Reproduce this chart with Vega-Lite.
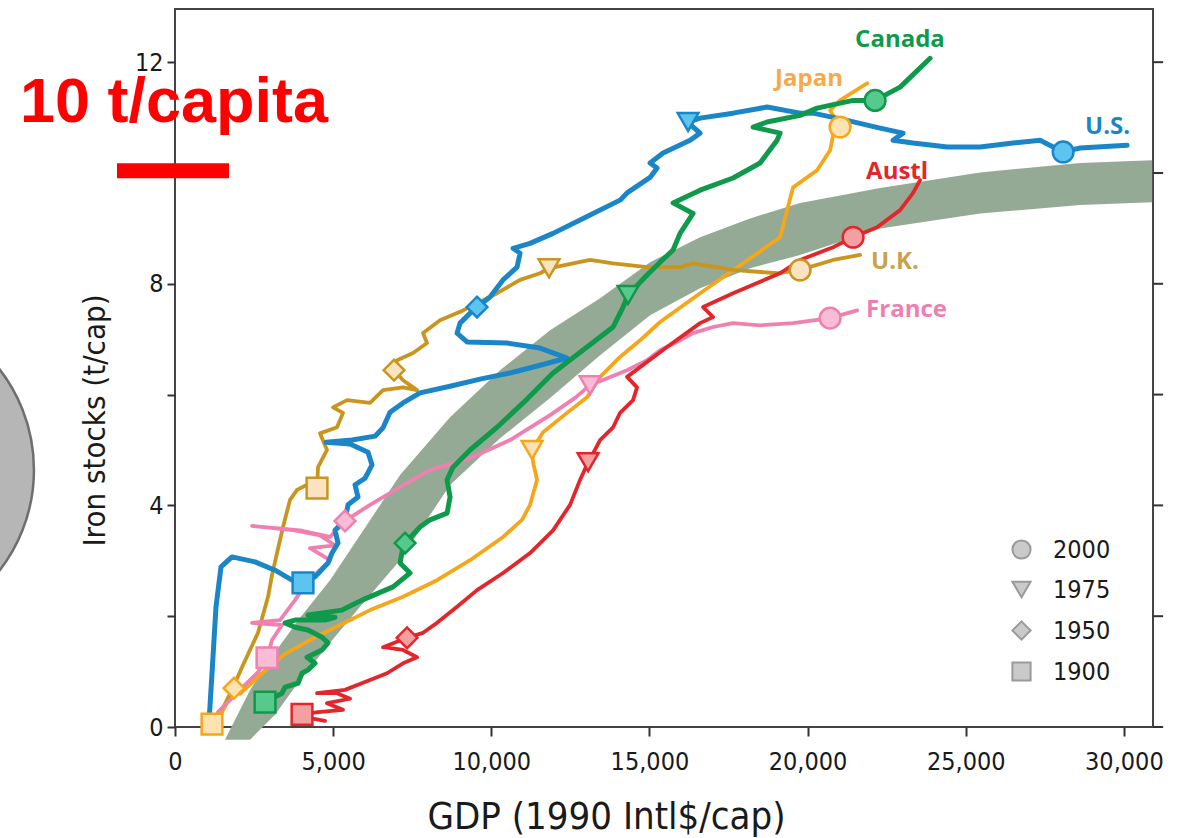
{
  "$schema": "https://vega.github.io/schema/vega-lite/v6.json",
  "autosize": {"type": "none"},
  "width": 978,
  "height": 718,
  "padding": {"left": 175, "top": 9, "right": 31, "bottom": 111},
  "background": "white",
  "config": {
    "view": {"stroke": "#444444", "strokeWidth": 2},
    "axis": {
      "labelFont": "DejaVu Sans Condensed, Liberation Sans Narrow, sans-serif",
      "labelFontSize": 25,
      "labelColor": "#1a1a1a",
      "titleFont": "DejaVu Sans Condensed, Liberation Sans Narrow, sans-serif",
      "titleColor": "#1a1a1a",
      "titleFontWeight": "normal",
      "domainColor": "#333333",
      "domainWidth": 2,
      "tickColor": "#333333",
      "tickWidth": 2,
      "grid": false
    },
    "legend": {
      "orient": "bottom-right",
      "offset": 42,
      "padding": 0,
      "labelFont": "DejaVu Sans Condensed, Liberation Sans Narrow, sans-serif",
      "labelFontSize": 25,
      "labelColor": "#1a1a1a",
      "symbolSize": 330,
      "symbolStrokeWidth": 2,
      "rowPadding": 14,
      "labelOffset": 19
    }
  },
  "datasets": {
    "band": [
      {"gdp": 1581, "lo": -0.23, "hi": -0.23},
      {"gdp": 2372, "lo": -0.23, "hi": 0.67},
      {"gdp": 3162, "lo": 0.22, "hi": 1.35},
      {"gdp": 3953, "lo": 0.85, "hi": 1.97},
      {"gdp": 4901, "lo": 1.52, "hi": 2.65},
      {"gdp": 5850, "lo": 2.17, "hi": 3.46},
      {"gdp": 7115, "lo": 3.01, "hi": 4.55},
      {"gdp": 8696, "lo": 4.37, "hi": 5.59},
      {"gdp": 10277, "lo": 5.21, "hi": 6.44},
      {"gdp": 11858, "lo": 5.94, "hi": 7.16},
      {"gdp": 13439, "lo": 6.71, "hi": 7.74},
      {"gdp": 15020, "lo": 7.43, "hi": 8.39},
      {"gdp": 16601, "lo": 7.92, "hi": 8.84},
      {"gdp": 18182, "lo": 8.28, "hi": 9.18},
      {"gdp": 19763, "lo": 8.52, "hi": 9.46},
      {"gdp": 22292, "lo": 9.0, "hi": 9.73},
      {"gdp": 25454, "lo": 9.27, "hi": 10.01},
      {"gdp": 28616, "lo": 9.42, "hi": 10.18},
      {"gdp": 30893, "lo": 9.47, "hi": 10.23}
    ],
    "lines": [
      {"country": "U.S.", "i": 1, "gdp": 1075, "stock": 0.09},
      {"country": "U.S.", "i": 2, "gdp": 1170, "stock": 0.97},
      {"country": "U.S.", "i": 3, "gdp": 1296, "stock": 2.17},
      {"country": "U.S.", "i": 4, "gdp": 1455, "stock": 2.89},
      {"country": "U.S.", "i": 5, "gdp": 1802, "stock": 3.07},
      {"country": "U.S.", "i": 6, "gdp": 2530, "stock": 2.98},
      {"country": "U.S.", "i": 7, "gdp": 3162, "stock": 2.83},
      {"country": "U.S.", "i": 8, "gdp": 3700, "stock": 2.65},
      {"country": "U.S.", "i": 9, "gdp": 4047, "stock": 2.6},
      {"country": "U.S.", "i": 10, "gdp": 4427, "stock": 2.71},
      {"country": "U.S.", "i": 11, "gdp": 4838, "stock": 2.96},
      {"country": "U.S.", "i": 12, "gdp": 4964, "stock": 3.14},
      {"country": "U.S.", "i": 13, "gdp": 5154, "stock": 3.32},
      {"country": "U.S.", "i": 14, "gdp": 5059, "stock": 3.55},
      {"country": "U.S.", "i": 15, "gdp": 5375, "stock": 3.74},
      {"country": "U.S.", "i": 16, "gdp": 5470, "stock": 4.01},
      {"country": "U.S.", "i": 17, "gdp": 5786, "stock": 4.15},
      {"country": "U.S.", "i": 18, "gdp": 5692, "stock": 4.37},
      {"country": "U.S.", "i": 19, "gdp": 6008, "stock": 4.49},
      {"country": "U.S.", "i": 20, "gdp": 6229, "stock": 4.73},
      {"country": "U.S.", "i": 21, "gdp": 6103, "stock": 4.96},
      {"country": "U.S.", "i": 22, "gdp": 5534, "stock": 5.11},
      {"country": "U.S.", "i": 23, "gdp": 4775, "stock": 5.14},
      {"country": "U.S.", "i": 24, "gdp": 5597, "stock": 5.18},
      {"country": "U.S.", "i": 25, "gdp": 6324, "stock": 5.25},
      {"country": "U.S.", "i": 26, "gdp": 6577, "stock": 5.4},
      {"country": "U.S.", "i": 27, "gdp": 6798, "stock": 5.68},
      {"country": "U.S.", "i": 28, "gdp": 7209, "stock": 5.85},
      {"country": "U.S.", "i": 29, "gdp": 7747, "stock": 6.03},
      {"country": "U.S.", "i": 30, "gdp": 8696, "stock": 6.15},
      {"country": "U.S.", "i": 31, "gdp": 9644, "stock": 6.28},
      {"country": "U.S.", "i": 32, "gdp": 10593, "stock": 6.39},
      {"country": "U.S.", "i": 33, "gdp": 11541, "stock": 6.53},
      {"country": "U.S.", "i": 34, "gdp": 12395, "stock": 6.66},
      {"country": "U.S.", "i": 35, "gdp": 11541, "stock": 6.84},
      {"country": "U.S.", "i": 36, "gdp": 10498, "stock": 6.93},
      {"country": "U.S.", "i": 37, "gdp": 9233, "stock": 6.95},
      {"country": "U.S.", "i": 38, "gdp": 8917, "stock": 7.11},
      {"country": "U.S.", "i": 39, "gdp": 9012, "stock": 7.29},
      {"country": "U.S.", "i": 40, "gdp": 9423, "stock": 7.52},
      {"country": "U.S.", "i": 41, "gdp": 9549, "stock": 7.58},
      {"country": "U.S.", "i": 42, "gdp": 9960, "stock": 7.76},
      {"country": "U.S.", "i": 43, "gdp": 10371, "stock": 8.07},
      {"country": "U.S.", "i": 44, "gdp": 10814, "stock": 8.3},
      {"country": "U.S.", "i": 45, "gdp": 10909, "stock": 8.55},
      {"country": "U.S.", "i": 46, "gdp": 10688, "stock": 8.64},
      {"country": "U.S.", "i": 47, "gdp": 11225, "stock": 8.73},
      {"country": "U.S.", "i": 48, "gdp": 11952, "stock": 8.91},
      {"country": "U.S.", "i": 49, "gdp": 12806, "stock": 9.15},
      {"country": "U.S.", "i": 50, "gdp": 14071, "stock": 9.51},
      {"country": "U.S.", "i": 51, "gdp": 14292, "stock": 9.64},
      {"country": "U.S.", "i": 52, "gdp": 15020, "stock": 9.92},
      {"country": "U.S.", "i": 53, "gdp": 15241, "stock": 10.09},
      {"country": "U.S.", "i": 54, "gdp": 15020, "stock": 10.18},
      {"country": "U.S.", "i": 55, "gdp": 15431, "stock": 10.36},
      {"country": "U.S.", "i": 56, "gdp": 16284, "stock": 10.59},
      {"country": "U.S.", "i": 57, "gdp": 16601, "stock": 10.72},
      {"country": "U.S.", "i": 58, "gdp": 16379, "stock": 10.83},
      {"country": "U.S.", "i": 59, "gdp": 16221, "stock": 10.92},
      {"country": "U.S.", "i": 60, "gdp": 16601, "stock": 10.99},
      {"country": "U.S.", "i": 61, "gdp": 17644, "stock": 11.08},
      {"country": "U.S.", "i": 62, "gdp": 18719, "stock": 11.19},
      {"country": "U.S.", "i": 63, "gdp": 19763, "stock": 11.08},
      {"country": "U.S.", "i": 64, "gdp": 20174, "stock": 11.08},
      {"country": "U.S.", "i": 65, "gdp": 21249, "stock": 10.95},
      {"country": "U.S.", "i": 66, "gdp": 22292, "stock": 10.81},
      {"country": "U.S.", "i": 67, "gdp": 23019, "stock": 10.72},
      {"country": "U.S.", "i": 68, "gdp": 22703, "stock": 10.59},
      {"country": "U.S.", "i": 69, "gdp": 23336, "stock": 10.54},
      {"country": "U.S.", "i": 70, "gdp": 24411, "stock": 10.47},
      {"country": "U.S.", "i": 71, "gdp": 25454, "stock": 10.47},
      {"country": "U.S.", "i": 72, "gdp": 26498, "stock": 10.54},
      {"country": "U.S.", "i": 73, "gdp": 27351, "stock": 10.59},
      {"country": "U.S.", "i": 74, "gdp": 27762, "stock": 10.47},
      {"country": "U.S.", "i": 75, "gdp": 28079, "stock": 10.38},
      {"country": "U.S.", "i": 76, "gdp": 28616, "stock": 10.45},
      {"country": "U.S.", "i": 77, "gdp": 30102, "stock": 10.5},

      {"country": "Canada", "i": 1, "gdp": 2846, "stock": 0.45},
      {"country": "Canada", "i": 2, "gdp": 3383, "stock": 0.61},
      {"country": "Canada", "i": 3, "gdp": 3478, "stock": 0.72},
      {"country": "Canada", "i": 4, "gdp": 3889, "stock": 0.79},
      {"country": "Canada", "i": 5, "gdp": 4016, "stock": 0.97},
      {"country": "Canada", "i": 6, "gdp": 4205, "stock": 1.03},
      {"country": "Canada", "i": 7, "gdp": 4427, "stock": 1.15},
      {"country": "Canada", "i": 8, "gdp": 4174, "stock": 1.26},
      {"country": "Canada", "i": 9, "gdp": 4648, "stock": 1.39},
      {"country": "Canada", "i": 10, "gdp": 4838, "stock": 1.52},
      {"country": "Canada", "i": 11, "gdp": 4648, "stock": 1.62},
      {"country": "Canada", "i": 12, "gdp": 4205, "stock": 1.75},
      {"country": "Canada", "i": 13, "gdp": 3794, "stock": 1.8},
      {"country": "Canada", "i": 14, "gdp": 3478, "stock": 1.88},
      {"country": "Canada", "i": 15, "gdp": 3794, "stock": 1.93},
      {"country": "Canada", "i": 16, "gdp": 4743, "stock": 1.93},
      {"country": "Canada", "i": 17, "gdp": 5059, "stock": 1.98},
      {"country": "Canada", "i": 18, "gdp": 4205, "stock": 2.02},
      {"country": "Canada", "i": 19, "gdp": 5281, "stock": 2.11},
      {"country": "Canada", "i": 20, "gdp": 5913, "stock": 2.29},
      {"country": "Canada", "i": 21, "gdp": 6893, "stock": 2.53},
      {"country": "Canada", "i": 22, "gdp": 7431, "stock": 2.78},
      {"country": "Canada", "i": 23, "gdp": 7115, "stock": 2.96},
      {"country": "Canada", "i": 24, "gdp": 7209, "stock": 3.25},
      {"country": "Canada", "i": 25, "gdp": 7273, "stock": 3.32},
      {"country": "Canada", "i": 26, "gdp": 7747, "stock": 3.61},
      {"country": "Canada", "i": 27, "gdp": 8063, "stock": 3.74},
      {"country": "Canada", "i": 28, "gdp": 8601, "stock": 3.86},
      {"country": "Canada", "i": 29, "gdp": 8696, "stock": 4.15},
      {"country": "Canada", "i": 30, "gdp": 8601, "stock": 4.46},
      {"country": "Canada", "i": 31, "gdp": 8790, "stock": 4.69},
      {"country": "Canada", "i": 32, "gdp": 9328, "stock": 5.0},
      {"country": "Canada", "i": 33, "gdp": 10182, "stock": 5.41},
      {"country": "Canada", "i": 34, "gdp": 11004, "stock": 5.85},
      {"country": "Canada", "i": 35, "gdp": 11952, "stock": 6.39},
      {"country": "Canada", "i": 36, "gdp": 13027, "stock": 6.86},
      {"country": "Canada", "i": 37, "gdp": 13850, "stock": 7.22},
      {"country": "Canada", "i": 38, "gdp": 14166, "stock": 7.58},
      {"country": "Canada", "i": 39, "gdp": 14324, "stock": 7.8},
      {"country": "Canada", "i": 40, "gdp": 14925, "stock": 8.16},
      {"country": "Canada", "i": 41, "gdp": 15336, "stock": 8.39},
      {"country": "Canada", "i": 42, "gdp": 15747, "stock": 8.61},
      {"country": "Canada", "i": 43, "gdp": 15968, "stock": 8.91},
      {"country": "Canada", "i": 44, "gdp": 16379, "stock": 9.27},
      {"country": "Canada", "i": 45, "gdp": 15747, "stock": 9.46},
      {"country": "Canada", "i": 46, "gdp": 16601, "stock": 9.69},
      {"country": "Canada", "i": 47, "gdp": 17644, "stock": 9.91},
      {"country": "Canada", "i": 48, "gdp": 18498, "stock": 10.18},
      {"country": "Canada", "i": 49, "gdp": 19035, "stock": 10.59},
      {"country": "Canada", "i": 50, "gdp": 19130, "stock": 10.72},
      {"country": "Canada", "i": 51, "gdp": 18277, "stock": 10.83},
      {"country": "Canada", "i": 52, "gdp": 18719, "stock": 10.92},
      {"country": "Canada", "i": 53, "gdp": 19763, "stock": 11.04},
      {"country": "Canada", "i": 54, "gdp": 20300, "stock": 11.17},
      {"country": "Canada", "i": 55, "gdp": 21439, "stock": 11.31},
      {"country": "Canada", "i": 56, "gdp": 22134, "stock": 11.31},
      {"country": "Canada", "i": 57, "gdp": 22925, "stock": 11.55},
      {"country": "Canada", "i": 58, "gdp": 23873, "stock": 12.07},

      {"country": "Japan", "i": 1, "gdp": 1170, "stock": 0.05},
      {"country": "Japan", "i": 2, "gdp": 1486, "stock": 0.27},
      {"country": "Japan", "i": 3, "gdp": 1707, "stock": 0.51},
      {"country": "Japan", "i": 4, "gdp": 1866, "stock": 0.7},
      {"country": "Japan", "i": 5, "gdp": 2055, "stock": 0.6},
      {"country": "Japan", "i": 6, "gdp": 2751, "stock": 0.97},
      {"country": "Japan", "i": 7, "gdp": 3478, "stock": 1.32},
      {"country": "Japan", "i": 8, "gdp": 4427, "stock": 1.62},
      {"country": "Japan", "i": 9, "gdp": 5217, "stock": 1.84},
      {"country": "Japan", "i": 10, "gdp": 6166, "stock": 2.11},
      {"country": "Japan", "i": 11, "gdp": 7209, "stock": 2.35},
      {"country": "Japan", "i": 12, "gdp": 8284, "stock": 2.65},
      {"country": "Japan", "i": 13, "gdp": 9328, "stock": 3.01},
      {"country": "Japan", "i": 14, "gdp": 10371, "stock": 3.43},
      {"country": "Japan", "i": 15, "gdp": 10972, "stock": 3.74},
      {"country": "Japan", "i": 16, "gdp": 11225, "stock": 4.01},
      {"country": "Japan", "i": 17, "gdp": 11446, "stock": 4.46},
      {"country": "Japan", "i": 18, "gdp": 11320, "stock": 4.78},
      {"country": "Japan", "i": 19, "gdp": 11288, "stock": 5.0},
      {"country": "Japan", "i": 20, "gdp": 11636, "stock": 5.32},
      {"country": "Japan", "i": 21, "gdp": 12395, "stock": 5.67},
      {"country": "Japan", "i": 22, "gdp": 13027, "stock": 5.95},
      {"country": "Japan", "i": 23, "gdp": 13439, "stock": 6.32},
      {"country": "Japan", "i": 24, "gdp": 14071, "stock": 6.68},
      {"country": "Japan", "i": 25, "gdp": 14703, "stock": 6.98},
      {"country": "Japan", "i": 26, "gdp": 15336, "stock": 7.31},
      {"country": "Japan", "i": 27, "gdp": 16601, "stock": 7.83},
      {"country": "Japan", "i": 28, "gdp": 17960, "stock": 8.37},
      {"country": "Japan", "i": 29, "gdp": 19130, "stock": 8.84},
      {"country": "Japan", "i": 30, "gdp": 19351, "stock": 9.33},
      {"country": "Japan", "i": 31, "gdp": 19541, "stock": 9.74},
      {"country": "Japan", "i": 32, "gdp": 20300, "stock": 10.05},
      {"country": "Japan", "i": 33, "gdp": 20711, "stock": 10.41},
      {"country": "Japan", "i": 34, "gdp": 20806, "stock": 10.68},
      {"country": "Japan", "i": 35, "gdp": 21027, "stock": 10.83},
      {"country": "Japan", "i": 36, "gdp": 20711, "stock": 11.13},
      {"country": "Japan", "i": 37, "gdp": 21027, "stock": 11.31},
      {"country": "Japan", "i": 38, "gdp": 21881, "stock": 11.62},

      {"country": "U.K.", "i": 1, "gdp": 1549, "stock": 0.38},
      {"country": "U.K.", "i": 2, "gdp": 1802, "stock": 0.67},
      {"country": "U.K.", "i": 3, "gdp": 2119, "stock": 1.08},
      {"country": "U.K.", "i": 4, "gdp": 2624, "stock": 1.7},
      {"country": "U.K.", "i": 5, "gdp": 2941, "stock": 2.35},
      {"country": "U.K.", "i": 6, "gdp": 3067, "stock": 2.74},
      {"country": "U.K.", "i": 7, "gdp": 3225, "stock": 3.14},
      {"country": "U.K.", "i": 8, "gdp": 3415, "stock": 3.61},
      {"country": "U.K.", "i": 9, "gdp": 3636, "stock": 4.1},
      {"country": "U.K.", "i": 10, "gdp": 3858, "stock": 4.28},
      {"country": "U.K.", "i": 11, "gdp": 4269, "stock": 4.4},
      {"country": "U.K.", "i": 12, "gdp": 4490, "stock": 4.31},
      {"country": "U.K.", "i": 13, "gdp": 4522, "stock": 4.69},
      {"country": "U.K.", "i": 14, "gdp": 4806, "stock": 5.0},
      {"country": "U.K.", "i": 15, "gdp": 4585, "stock": 5.3},
      {"country": "U.K.", "i": 16, "gdp": 5122, "stock": 5.41},
      {"country": "U.K.", "i": 17, "gdp": 5312, "stock": 5.67},
      {"country": "U.K.", "i": 18, "gdp": 4996, "stock": 5.77},
      {"country": "U.K.", "i": 19, "gdp": 5439, "stock": 5.9},
      {"country": "U.K.", "i": 20, "gdp": 6166, "stock": 5.85},
      {"country": "U.K.", "i": 21, "gdp": 6577, "stock": 6.08},
      {"country": "U.K.", "i": 22, "gdp": 7209, "stock": 6.13},
      {"country": "U.K.", "i": 23, "gdp": 7652, "stock": 6.08},
      {"country": "U.K.", "i": 24, "gdp": 7209, "stock": 6.26},
      {"country": "U.K.", "i": 25, "gdp": 6925, "stock": 6.44},
      {"country": "U.K.", "i": 26, "gdp": 7020, "stock": 6.62},
      {"country": "U.K.", "i": 27, "gdp": 7526, "stock": 6.75},
      {"country": "U.K.", "i": 28, "gdp": 7968, "stock": 6.93},
      {"country": "U.K.", "i": 29, "gdp": 7842, "stock": 7.11},
      {"country": "U.K.", "i": 30, "gdp": 8379, "stock": 7.34},
      {"country": "U.K.", "i": 31, "gdp": 9107, "stock": 7.52},
      {"country": "U.K.", "i": 32, "gdp": 10182, "stock": 7.83},
      {"country": "U.K.", "i": 33, "gdp": 10909, "stock": 8.07},
      {"country": "U.K.", "i": 34, "gdp": 11541, "stock": 8.19},
      {"country": "U.K.", "i": 35, "gdp": 11826, "stock": 8.28},
      {"country": "U.K.", "i": 36, "gdp": 12585, "stock": 8.37},
      {"country": "U.K.", "i": 37, "gdp": 13122, "stock": 8.43},
      {"country": "U.K.", "i": 38, "gdp": 13850, "stock": 8.37},
      {"country": "U.K.", "i": 39, "gdp": 14925, "stock": 8.3},
      {"country": "U.K.", "i": 40, "gdp": 15968, "stock": 8.3},
      {"country": "U.K.", "i": 41, "gdp": 16379, "stock": 8.37},
      {"country": "U.K.", "i": 42, "gdp": 17644, "stock": 8.25},
      {"country": "U.K.", "i": 43, "gdp": 19035, "stock": 8.19},
      {"country": "U.K.", "i": 44, "gdp": 19763, "stock": 8.25},
      {"country": "U.K.", "i": 45, "gdp": 20806, "stock": 8.43},
      {"country": "U.K.", "i": 46, "gdp": 21660, "stock": 8.52},

      {"country": "France", "i": 1, "gdp": 1360, "stock": 0.27},
      {"country": "France", "i": 2, "gdp": 2055, "stock": 0.67},
      {"country": "France", "i": 3, "gdp": 2624, "stock": 0.99},
      {"country": "France", "i": 4, "gdp": 2909, "stock": 1.25},
      {"country": "France", "i": 5, "gdp": 3067, "stock": 1.57},
      {"country": "France", "i": 6, "gdp": 3383, "stock": 1.84},
      {"country": "France", "i": 7, "gdp": 2435, "stock": 1.88},
      {"country": "France", "i": 8, "gdp": 3320, "stock": 1.93},
      {"country": "France", "i": 9, "gdp": 3794, "stock": 2.29},
      {"country": "France", "i": 10, "gdp": 4111, "stock": 2.56},
      {"country": "France", "i": 11, "gdp": 4522, "stock": 2.8},
      {"country": "France", "i": 12, "gdp": 4901, "stock": 3.01},
      {"country": "France", "i": 13, "gdp": 4269, "stock": 3.23},
      {"country": "France", "i": 14, "gdp": 5059, "stock": 3.28},
      {"country": "France", "i": 15, "gdp": 4585, "stock": 3.46},
      {"country": "France", "i": 16, "gdp": 3794, "stock": 3.55},
      {"country": "France", "i": 17, "gdp": 2435, "stock": 3.63},
      {"country": "France", "i": 18, "gdp": 3953, "stock": 3.55},
      {"country": "France", "i": 19, "gdp": 4901, "stock": 3.43},
      {"country": "France", "i": 20, "gdp": 5375, "stock": 3.72},
      {"country": "France", "i": 21, "gdp": 6166, "stock": 4.01},
      {"country": "France", "i": 22, "gdp": 7115, "stock": 4.33},
      {"country": "France", "i": 23, "gdp": 8063, "stock": 4.64},
      {"country": "France", "i": 24, "gdp": 9328, "stock": 4.85},
      {"country": "France", "i": 25, "gdp": 10593, "stock": 5.18},
      {"country": "France", "i": 26, "gdp": 11858, "stock": 5.63},
      {"country": "France", "i": 27, "gdp": 12648, "stock": 5.94},
      {"country": "France", "i": 28, "gdp": 13122, "stock": 6.17},
      {"country": "France", "i": 29, "gdp": 14292, "stock": 6.44},
      {"country": "France", "i": 30, "gdp": 14925, "stock": 6.62},
      {"country": "France", "i": 31, "gdp": 15336, "stock": 6.8},
      {"country": "France", "i": 32, "gdp": 15968, "stock": 6.98},
      {"country": "France", "i": 33, "gdp": 16379, "stock": 7.11},
      {"country": "France", "i": 34, "gdp": 17012, "stock": 7.22},
      {"country": "France", "i": 35, "gdp": 17644, "stock": 7.29},
      {"country": "France", "i": 36, "gdp": 18498, "stock": 7.25},
      {"country": "France", "i": 37, "gdp": 19541, "stock": 7.29},
      {"country": "France", "i": 38, "gdp": 20711, "stock": 7.38},
      {"country": "France", "i": 39, "gdp": 21565, "stock": 7.52},

      {"country": "Austl", "i": 1, "gdp": 4743, "stock": 0.11},
      {"country": "Austl", "i": 2, "gdp": 4269, "stock": 0.16},
      {"country": "Austl", "i": 3, "gdp": 4016, "stock": 0.23},
      {"country": "Austl", "i": 4, "gdp": 4522, "stock": 0.27},
      {"country": "Austl", "i": 5, "gdp": 5312, "stock": 0.31},
      {"country": "Austl", "i": 6, "gdp": 4806, "stock": 0.43},
      {"country": "Austl", "i": 7, "gdp": 5534, "stock": 0.51},
      {"country": "Austl", "i": 8, "gdp": 5122, "stock": 0.61},
      {"country": "Austl", "i": 9, "gdp": 4490, "stock": 0.61},
      {"country": "Austl", "i": 10, "gdp": 5375, "stock": 0.67},
      {"country": "Austl", "i": 11, "gdp": 6166, "stock": 0.85},
      {"country": "Austl", "i": 12, "gdp": 6703, "stock": 0.97},
      {"country": "Austl", "i": 13, "gdp": 7209, "stock": 1.15},
      {"country": "Austl", "i": 14, "gdp": 7652, "stock": 1.26},
      {"country": "Austl", "i": 15, "gdp": 7209, "stock": 1.39},
      {"country": "Austl", "i": 16, "gdp": 6577, "stock": 1.44},
      {"country": "Austl", "i": 17, "gdp": 7336, "stock": 1.61},
      {"country": "Austl", "i": 18, "gdp": 7842, "stock": 1.7},
      {"country": "Austl", "i": 19, "gdp": 8284, "stock": 1.88},
      {"country": "Austl", "i": 20, "gdp": 8917, "stock": 2.17},
      {"country": "Austl", "i": 21, "gdp": 9549, "stock": 2.47},
      {"country": "Austl", "i": 22, "gdp": 10371, "stock": 2.78},
      {"country": "Austl", "i": 23, "gdp": 11225, "stock": 3.14},
      {"country": "Austl", "i": 24, "gdp": 11952, "stock": 3.55},
      {"country": "Austl", "i": 25, "gdp": 12490, "stock": 4.01},
      {"country": "Austl", "i": 26, "gdp": 12806, "stock": 4.46},
      {"country": "Austl", "i": 27, "gdp": 13059, "stock": 4.78},
      {"country": "Austl", "i": 28, "gdp": 13217, "stock": 4.94},
      {"country": "Austl", "i": 29, "gdp": 13439, "stock": 5.18},
      {"country": "Austl", "i": 30, "gdp": 13850, "stock": 5.41},
      {"country": "Austl", "i": 31, "gdp": 14071, "stock": 5.67},
      {"country": "Austl", "i": 32, "gdp": 14482, "stock": 5.9},
      {"country": "Austl", "i": 33, "gdp": 14608, "stock": 6.13},
      {"country": "Austl", "i": 34, "gdp": 14292, "stock": 6.32},
      {"country": "Austl", "i": 35, "gdp": 15557, "stock": 6.86},
      {"country": "Austl", "i": 36, "gdp": 16601, "stock": 7.29},
      {"country": "Austl", "i": 37, "gdp": 17012, "stock": 7.4},
      {"country": "Austl", "i": 38, "gdp": 16695, "stock": 7.58},
      {"country": "Austl", "i": 39, "gdp": 17644, "stock": 7.83},
      {"country": "Austl", "i": 40, "gdp": 19130, "stock": 8.19},
      {"country": "Austl", "i": 41, "gdp": 19763, "stock": 8.43},
      {"country": "Austl", "i": 42, "gdp": 20806, "stock": 8.66},
      {"country": "Austl", "i": 43, "gdp": 21439, "stock": 8.84},
      {"country": "Austl", "i": 44, "gdp": 22197, "stock": 9.02},
      {"country": "Austl", "i": 45, "gdp": 22925, "stock": 9.33},
      {"country": "Austl", "i": 46, "gdp": 23336, "stock": 9.64},
      {"country": "Austl", "i": 47, "gdp": 23557, "stock": 9.87}
    ],
    "markers": [
      {"country": "U.S.", "year": "1900", "gdp": 4047, "stock": 2.6},
      {"country": "U.S.", "year": "1950", "gdp": 9549, "stock": 7.58},
      {"country": "U.S.", "year": "1975", "gdp": 16221, "stock": 10.92},
      {"country": "U.S.", "year": "2000", "gdp": 28079, "stock": 10.38},
      {"country": "Canada", "year": "1900", "gdp": 2846, "stock": 0.45},
      {"country": "Canada", "year": "1950", "gdp": 7273, "stock": 3.32},
      {"country": "Canada", "year": "1975", "gdp": 14324, "stock": 7.8},
      {"country": "Canada", "year": "2000", "gdp": 22134, "stock": 11.31},
      {"country": "Japan", "year": "1900", "gdp": 1170, "stock": 0.05},
      {"country": "Japan", "year": "1950", "gdp": 1866, "stock": 0.7},
      {"country": "Japan", "year": "1975", "gdp": 11288, "stock": 5.0},
      {"country": "Japan", "year": "2000", "gdp": 21027, "stock": 10.83},
      {"country": "U.K.", "year": "1900", "gdp": 4490, "stock": 4.31},
      {"country": "U.K.", "year": "1950", "gdp": 6925, "stock": 6.44},
      {"country": "U.K.", "year": "1975", "gdp": 11826, "stock": 8.28},
      {"country": "U.K.", "year": "2000", "gdp": 19763, "stock": 8.25},
      {"country": "France", "year": "1900", "gdp": 2909, "stock": 1.25},
      {"country": "France", "year": "1950", "gdp": 5375, "stock": 3.72},
      {"country": "France", "year": "1975", "gdp": 13122, "stock": 6.17},
      {"country": "France", "year": "2000", "gdp": 20711, "stock": 7.38},
      {"country": "Austl", "year": "1900", "gdp": 4016, "stock": 0.23},
      {"country": "Austl", "year": "1950", "gdp": 7336, "stock": 1.61},
      {"country": "Austl", "year": "1975", "gdp": 13059, "stock": 4.78},
      {"country": "Austl", "year": "2000", "gdp": 21439, "stock": 8.84}
    ],
    "labels": [
      {"country": "Canada", "gdp": 21502, "stock": 12.4},
      {"country": "Japan", "gdp": 18972, "stock": 11.69},
      {"country": "U.S.", "gdp": 28774, "stock": 10.83},
      {"country": "Austl", "gdp": 21849, "stock": 10.01},
      {"country": "U.K.", "gdp": 22008, "stock": 8.39},
      {"country": "France", "gdp": 21849, "stock": 7.52}
    ],
    "note": [
      {"text": "10 t/capita", "gdp": -4901, "stock": 10.92}
    ],
    "bar": [
      {"gdp": -1834, "gdp2": 1707, "stock": 10.04}
    ],
    "blob": [
      {"gdp": -9644, "stock": 4.64}
    ],
    "rticks": [
      {"stock": 0}, {"stock": 2}, {"stock": 4}, {"stock": 6}, {"stock": 8}, {"stock": 10}, {"stock": 12}
    ]
  },
  "layer": [
    {
      "data": {"name": "blob"},
      "mark": {"type": "point", "shape": "circle", "filled": true, "size": 107584, "fill": "#b6b6b6", "stroke": "#6e6e6e", "strokeWidth": 2.5, "opacity": 1, "clip": false},
      "encoding": {
        "x": {
          "field": "gdp", "type": "quantitative",
          "scale": {"domain": [0, 30920], "nice": false, "zero": false},
          "axis": {
            "orient": "bottom",
            "values": [0, 5000, 10000, 15000, 20000, 25000, 30000],
            "labelExpr": "format(datum.value, ',')",
            "tickSize": 9,
            "labelPadding": 13,
            "labelFlush": false,
            "domain": false,
            "title": "GDP (1990 Intl$/cap)",
            "titleFontSize": 38,
            "titleX": 431,
            "titleY": 101,
            "titleAlign": "center",
            "titleBaseline": "alphabetic"
          }
        },
        "y": {
          "field": "stock", "type": "quantitative",
          "scale": {"domain": [0, 12.96], "nice": false, "zero": false},
          "axis": {
            "orient": "left",
            "values": [0, 2, 4, 6, 8, 10, 12],
            "labelExpr": "datum.value % 4 == 0 ? datum.label : ''",
            "tickSize": 8,
            "labelPadding": 4,
            "labelFlush": false,
            "domain": false,
            "title": "Iron stocks (t/cap)",
            "titleFontSize": 31,
            "titleX": -80,
            "titleY": 411,
            "titleAngle": -90,
            "titleAlign": "center",
            "titleBaseline": "middle"
          }
        }
      }
    },
    {
      "data": {"name": "rticks"},
      "mark": {"type": "rule", "color": "#333333", "strokeWidth": 2, "clip": false},
      "encoding": {
        "x": {"datum": 30920, "type": "quantitative"},
        "x2": {"datum": 31240},
        "y": {"field": "stock", "type": "quantitative"}
      }
    },
    {
      "data": {"name": "band"},
      "mark": {"type": "area", "color": "#95aa94", "opacity": 1, "clip": false},
      "encoding": {
        "x": {"field": "gdp", "type": "quantitative"},
        "y": {"field": "hi", "type": "quantitative"},
        "y2": {"field": "lo"}
      }
    },
    {
      "data": {"name": "lines"},
      "transform": [{"filter": "datum.country != 'U.S.' && datum.country != 'Canada'"}],
      "mark": {"type": "line", "strokeWidth": 3.8, "strokeJoin": "round", "strokeCap": "round", "clip": false},
      "encoding": {
        "x": {"field": "gdp", "type": "quantitative"},
        "y": {"field": "stock", "type": "quantitative"},
        "order": {"field": "i", "type": "quantitative"},
        "stroke": {
          "field": "country", "type": "nominal",
          "scale": {"domain": ["U.K.", "France", "Austl", "Japan", "Canada", "U.S."], "range": ["#c9951f", "#f080b0", "#e3262b", "#f6a618", "#0e9a4a", "#1b86c7"]},
          "legend": null
        }
      }
    },
    {
      "data": {"name": "lines"},
      "transform": [{"filter": "datum.country == 'U.S.' || datum.country == 'Canada'"}],
      "mark": {"type": "line", "strokeWidth": 5, "strokeJoin": "round", "strokeCap": "round", "clip": false},
      "encoding": {
        "x": {"field": "gdp", "type": "quantitative"},
        "y": {"field": "stock", "type": "quantitative"},
        "order": {"field": "i", "type": "quantitative"},
        "stroke": {
          "field": "country", "type": "nominal",
          "scale": {"domain": ["U.K.", "France", "Austl", "Japan", "Canada", "U.S."], "range": ["#c9951f", "#f080b0", "#e3262b", "#f6a618", "#0e9a4a", "#1b86c7"]},
          "legend": null
        }
      }
    },
    {
      "data": {"name": "markers"},
      "mark": {"type": "point", "filled": true, "size": 430, "strokeWidth": 2.5, "opacity": 1, "clip": false},
      "encoding": {
        "x": {"field": "gdp", "type": "quantitative"},
        "y": {"field": "stock", "type": "quantitative"},
        "shape": {
          "field": "year", "type": "nominal",
          "scale": {"domain": ["2000", "1975", "1950", "1900"], "range": ["circle", "triangle-down", "diamond", "square"]},
          "legend": {
            "title": null,
            "symbolFillColor": "#cacaca",
            "symbolStrokeColor": "#9a9a9a",
            "encode": {"symbols": {"update": {"fill": {"value": "#cacaca"}, "stroke": {"value": "#9a9a9a"}, "strokeWidth": {"value": 2}, "opacity": {"value": 1}}}}
          }
        },
        "stroke": {
          "field": "country", "type": "nominal",
          "scale": {"domain": ["U.K.", "France", "Austl", "Japan", "Canada", "U.S."], "range": ["#c9951f", "#f080b0", "#e3262b", "#f6a618", "#0e9a4a", "#1b86c7"]},
          "legend": null
        },
        "fill": {
          "field": "country", "type": "nominal",
          "scale": {"domain": ["U.K.", "France", "Austl", "Japan", "Canada", "U.S."], "range": ["#fbe3c2", "#f9bcd6", "#f5a0a0", "#fde2b2", "#56c98c", "#5cc4ef"]},
          "legend": null
        }
      }
    },
    {
      "data": {"name": "labels"},
      "mark": {"type": "text", "align": "left", "baseline": "middle", "font": "Open Sans, Liberation Sans, sans-serif", "fontSize": 24, "fontWeight": "bold", "clip": false},
      "encoding": {
        "x": {"field": "gdp", "type": "quantitative"},
        "y": {"field": "stock", "type": "quantitative"},
        "text": {"field": "country", "type": "nominal"},
        "color": {
          "field": "country", "type": "nominal",
          "scale": {"domain": ["U.K.", "France", "Austl", "Japan", "Canada", "U.S."], "range": ["#c9a24a", "#f07fb0", "#e3262b", "#f5a94a", "#0e9a4a", "#1b86c7"]},
          "legend": null
        }
      }
    },
    {
      "data": {"name": "bar"},
      "mark": {"type": "rule", "color": "#ff0000", "strokeWidth": 15, "strokeCap": "butt", "clip": false},
      "encoding": {
        "x": {"field": "gdp", "type": "quantitative"},
        "x2": {"field": "gdp2"},
        "y": {"field": "stock", "type": "quantitative"}
      }
    },
    {
      "data": {"name": "note"},
      "mark": {"type": "text", "align": "left", "baseline": "alphabetic", "font": "Liberation Sans, Arial, sans-serif", "fontSize": 63, "fontWeight": "bold", "color": "#ff0000", "clip": false},
      "encoding": {
        "x": {"field": "gdp", "type": "quantitative"},
        "y": {"field": "stock", "type": "quantitative"},
        "text": {"field": "text", "type": "nominal"}
      }
    }
  ]
}
